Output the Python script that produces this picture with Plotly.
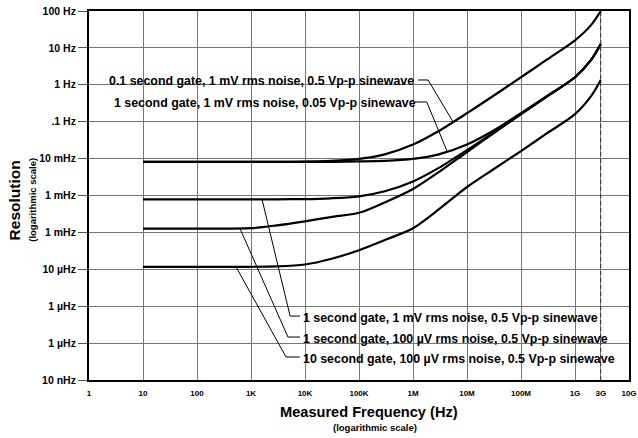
import plotly.graph_objects as go

# ---------------- data ----------------
freq_hz = [10, 100, 1e3, 3e3, 1e4, 3e4, 1e5, 3e5, 1e6, 3e6, 1e7, 3e7, 1e8, 3e8, 1e9, 2e9, 3e9]

res_01s_1mV_05V = [0.0082, 0.0082, 0.0082, 0.0082, 0.0083, 0.0087, 0.0098, 0.013, 0.024, 0.056,
                   0.17, 0.49, 1.6, 4.8, 16, 42, 100]
res_1s_1mV_005V = [0.0082, 0.0082, 0.0082, 0.0082, 0.0082, 0.0082, 0.0084, 0.0087, 0.0098, 0.013,
                   0.024, 0.056, 0.17, 0.49, 1.6, 4.8, 12.8]
res_1s_1mV_05V = [0.00079, 0.00079, 0.00079, 0.00079, 0.0008, 0.00084, 0.00095, 0.0013, 0.0024,
                  0.0056, 0.017, 0.049, 0.16, 0.48, 1.6, 4.8, 12.8]
res_1s_100uV_05V = [0.000126, 0.000126, 0.00013, 0.000155, 0.0002, 0.00026, 0.00034, 0.00065,
                    0.0015, 0.0043, 0.015, 0.047, 0.16, 0.48, 1.6, 4.8, 12.8]
res_10s_100uV_05V = [1.17e-5, 1.17e-5, 1.17e-5, 1.2e-5, 1.35e-5, 1.9e-5, 3.3e-5, 6.2e-5, 1.3e-4,
                     4.2e-4, 1.7e-3, 5e-3, 1.6e-2, 4.8e-2, 0.16, 0.5, 1.35]

series = [res_01s_1mV_05V, res_1s_1mV_005V, res_1s_1mV_05V, res_1s_100uV_05V, res_10s_100uV_05V]

labels = [
    "0.1 second gate, 1 mV rms noise, 0.5 Vp-p sinewave",
    "1 second gate, 1 mV rms noise, 0.05 Vp-p sinewave",
    "1 second gate, 1 mV rms noise, 0.5 Vp-p sinewave",
    "1 second gate, 100 µV rms noise, 0.5 Vp-p sinewave",
    "10 second gate, 100 µV rms noise, 0.5 Vp-p sinewave",
]

x_tickvals = [1, 10, 100, 1e3, 1e4, 1e5, 1e6, 1e7, 1e8, 1e9, 3e9, 1e10]
x_ticktext = ["1", "10", "100", "1K", "10K", "100K", "1M", "10M", "100M", "1G", "3G", "10G"]
y_tickvals = [1e-8, 1e-7, 1e-6, 1e-5, 1e-4, 1e-3, 1e-2, 1e-1, 1, 10, 100]
y_ticktext = ["10 nHz", "1 µHz", "1 µHz", "10 µHz", "1 mHz", "1 mHz", "10 mHz", ".1 Hz",
              "1 Hz", "10 Hz", "100 Hz"]

# leader lines (frequency, resolution) for each label
leader_x = [[1.24e6, 1.9e6, 5.5e6], [1.09e6, 1.8e6, 4.26e6],
            [1600, 5300, 8080], [626, 4840, 8080], [527, 4450, 8080]]
leader_y = [[1.35, 1.35, 0.1], [0.342, 0.342, 0.016],
            [0.00079, 5.4e-7, 5.4e-7], [1.26e-4, 1.46e-7, 1.46e-7], [1.17e-5, 4.2e-8, 4.2e-8]]

FONT = "Liberation Sans"

fig = go.Figure()

# 3 GHz dashed marker
fig.add_trace(go.Scatter(x=[3e9, 3e9], y=[1e-8, 100], mode="lines",
                         line=dict(color="#333", width=1, dash="4px,3px"),
                         hoverinfo="skip", showlegend=False))

for vals in series:
    fig.add_trace(go.Scatter(x=freq_hz, y=vals, mode="lines",
                             line=dict(color="black", width=2.2, shape="spline", smoothing=0.8),
                             showlegend=False))

for lx, ly in zip(leader_x, leader_y):
    fig.add_trace(go.Scatter(x=lx, y=ly, mode="lines", line=dict(color="black", width=1),
                             hoverinfo="skip", showlegend=False))

# white label boxes (hide gridlines behind text)
fig.add_shape(type="rect", xref="paper", yref="paper", x0=0.0296, x1=0.617, y0=0.726, y1=0.846,
              fillcolor="white", line=dict(width=0), layer="between")
fig.add_shape(type="rect", xref="paper", yref="paper", x0=0.387, x1=0.98, y0=0.0325, y1=0.192,
              fillcolor="white", line=dict(width=0), layer="between")

label_pos = [(0.033, 0.810), (0.042, 0.752), (0.392, 0.169), (0.392, 0.112), (0.392, 0.058)]
for txt, (px, py) in zip(labels, label_pos):
    fig.add_annotation(x=px, y=py, xref="paper", yref="paper", text=txt, showarrow=False,
                       xanchor="left", yanchor="middle",
                       font=dict(family=FONT, size=12.4, color="black", weight="bold"))

# axis titles
fig.add_annotation(x=0.519, y=-0.087, xref="paper", yref="paper", text="Measured Frequency (Hz)",
                   showarrow=False, xanchor="center", yanchor="middle",
                   font=dict(family=FONT, size=14.6, color="black", weight="bold"))
fig.add_annotation(x=0.53, y=-0.130, xref="paper", yref="paper", text="(logarithmic scale)",
                   showarrow=False, xanchor="center", yanchor="middle",
                   font=dict(family=FONT, size=9.5, color="black", weight="bold"))
fig.add_annotation(x=-0.138, y=0.488, xref="paper", yref="paper", text="Resolution",
                   showarrow=False, textangle=-90, xanchor="center", yanchor="middle",
                   font=dict(family=FONT, size=15.5, color="black", weight="bold"))
fig.add_annotation(x=-0.104, y=0.488, xref="paper", yref="paper", text="(logarithmic scale)",
                   showarrow=False, textangle=-90, xanchor="center", yanchor="middle",
                   font=dict(family=FONT, size=9.5, color="black", weight="bold"))

fig.update_xaxes(type="log", range=[0, 10], tickvals=x_tickvals, ticktext=x_ticktext,
                 tickfont=dict(family=FONT, size=8, color="black", weight="bold"),
                 showgrid=True, gridcolor="#767676", gridwidth=1, automargin=False,
                 showline=True, linecolor="black", linewidth=2, mirror=True,
                 ticks="", ticklabelstandoff=4, zeroline=False)
fig.update_yaxes(type="log", range=[-8, 2], tickvals=y_tickvals, ticktext=y_ticktext,
                 tickfont=dict(family=FONT, size=10.5, color="black", weight="bold"),
                 showgrid=True, gridcolor="#767676", gridwidth=1, automargin=False,
                 showline=True, linecolor="black", linewidth=2, mirror=True,
                 ticks="outside", ticklen=9, tickcolor="#555", tickwidth=1, zeroline=False)

fig.update_layout(width=638, height=438, margin=dict(l=89, r=9, t=11, b=58),
                  paper_bgcolor="white", plot_bgcolor="white", showlegend=False)

fig.write_html("out.html", config={"displayModeBar": False},
               post_script=["document.body.style.margin='0';document.body.style.overflow='hidden';"])
